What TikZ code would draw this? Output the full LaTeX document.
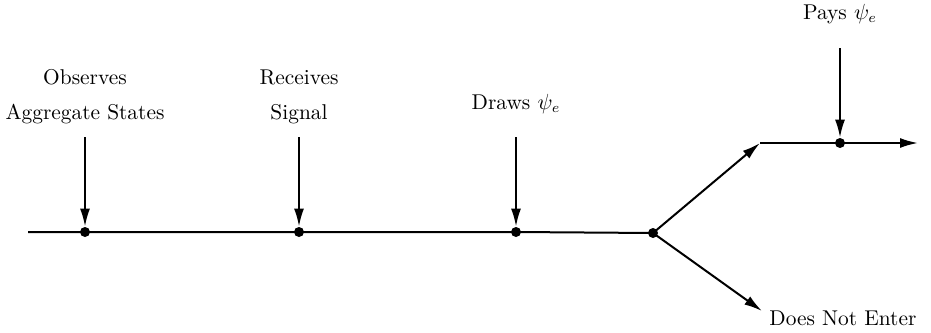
\documentclass[tikz,border=0pt]{standalone}
\usetikzlibrary{arrows.meta}
\begin{document}
\begin{tikzpicture}[x=0.5pt,y=-0.5pt,
  tl/.style={line width=1pt},
  arr/.style={line width=1pt,-{Latex[length=9pt,width=5pt]}},
  dotn/.style={circle,fill=black,inner sep=0pt,minimum size=5pt},
  lbl/.style={align=center,inner sep=0pt,font=\fontsize{10.7pt}{13pt}\selectfont}]
\useasboundingbox (0,0) rectangle (931,332);
% main line points
\coordinate (start) at (28,232);
\node[dotn] (d1) at (85,232) {};
\node[dotn] (d2) at (299,232) {};
\node[dotn] (d3) at (516,232) {};
\node[dotn] (d4) at (653,233) {};
\coordinate (up) at (760,143);
\node[dotn] (d5) at (840,143) {};
\coordinate (endr) at (918,143);
\coordinate (down) at (762,311);
% top of vertical arrows
\coordinate (t1) at (85,137);
\coordinate (t2) at (299,137);
\coordinate (t3) at (516,137);
\coordinate (t5) at (840,48);
% main line
\draw[tl] (start) -- (d1.center) -- (d2.center) -- (d3.center) -- (d4.center);
\draw[arr] (d4.center) -- (up);
\draw[tl] (up) -- (d5.center);
\draw[arr] (d5.center) -- (endr);
\draw[arr] (d4.center) -- (down);
% vertical arrows
\draw[arr] (t1) -- (d1.north);
\draw[arr] (t2) -- (d2.north);
\draw[arr] (t3) -- (d3.north);
\draw[arr] (t5) -- (d5.north);
% labels
\node[lbl] (l1) at (85,97) {Observes\\[4.5pt]Aggregate States};
\node[lbl] (l2) at (299,97) {Receives\\[4.5pt]Signal};
\node[lbl] (l3) at (516,104) {Draws $\psi_e$};
\node[lbl] (l5) at (840,14) {Pays $\psi_e$};
\node[lbl,anchor=west] (l6) at (769,318) {Does Not Enter};
\end{tikzpicture}
\end{document}
